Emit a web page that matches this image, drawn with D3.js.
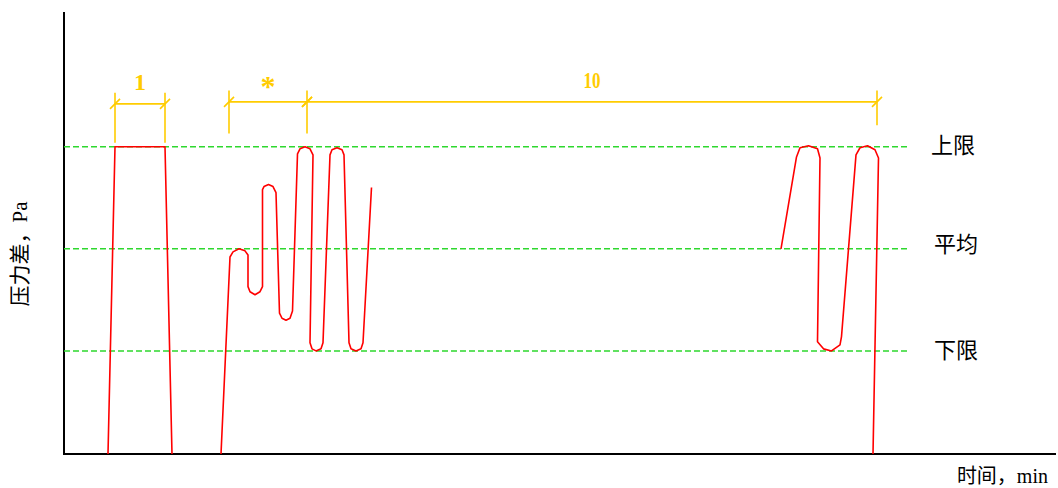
<!DOCTYPE html>
<html>
<head>
<meta charset="utf-8">
<script src="https://cdn.jsdelivr.net/npm/d3@7"></script>
<style>
  body { margin: 0; background: #fff; }
  svg { display: block; }
  text { font-family: "Liberation Serif", "Noto Sans CJK SC", serif; }
</style>
</head>
<body>
<div id="chart"></div>
<script>
// time in min (schematic), pressure difference relative to mean (upper = 1, lower = -1)
const bottomLevel = -2.01;

const pulse1 = [
  [0.88, bottomLevel], [1.02, 1], [2.02, 1], [2.16, bottomLevel]
];

const pulse2 = [
  [3.14, bottomLevel], [3.32, -0.08], [3.38, -0.03], [3.50, 0.0], [3.62, -0.02], [3.68, -0.06],
  [3.68, -0.37], [3.72, -0.42], [3.82, -0.45], [3.92, -0.42], [3.97, -0.37],
  [3.97, 0.58], [4.00, 0.61], [4.09, 0.63], [4.18, 0.61], [4.24, 0.55],
  [4.31, -0.63], [4.36, -0.68], [4.44, -0.70], [4.52, -0.68], [4.57, -0.61],
  [4.67, 0.93], [4.72, 0.98], [4.82, 1.0], [4.92, 0.98], [4.98, 0.92],
  [4.92, -0.92], [4.96, -0.98], [5.04, -1.0], [5.14, -0.98], [5.18, -0.92],
  [5.32, 0.92], [5.36, 0.97], [5.46, 0.99], [5.56, 0.97], [5.60, 0.92],
  [5.70, -0.92], [5.74, -0.98], [5.84, -1.0], [5.94, -0.98], [5.98, -0.92],
  [6.15, 0.60]
];

const pulse3 = [
  [14.34, 0], [14.65, 0.90], [14.72, 0.99], [14.89, 1.01], [15.07, 0.98], [15.12, 0.89],
  [15.07, -0.91], [15.19, -0.98], [15.35, -1.0], [15.52, -0.94], [15.55, -0.86],
  [15.84, 0.92], [15.92, 0.99], [16.07, 1.01], [16.22, 0.97], [16.29, 0.89],
  [16.18, bottomLevel]
];

const limitLines = [
  { label: "上限", value: 1, dy: -1 },
  { label: "平均", value: 0, dy: -4 },
  { label: "下限", value: -1, dy: 0 }
];
const limitEnd = 16.92;

// brackets: from, to, line level, label, ticks [t, top, bottom]
const brackets = [
  { from: 1.02, to: 2.02, level: 1.42, label: "1", ticks: [[1.02, 1.53, 1.04], [2.02, 1.53, 1.04]] },
  { from: 3.30, to: 4.86, level: 1.44, label: "*", ticks: [[3.30, 1.55, 1.13], [4.86, 1.55, 1.13]] },
  { from: 4.86, to: 16.26, level: 1.44, label: "10", ticks: [[16.26, 1.55, 1.21]] }
];

const yLabel = "压力差，Pa";
const xLabel = "时间，min";

const width = 1058, height = 488;
const x = d3.scaleLinear().domain([0, 19.84]).range([64, 1056]);
const y = d3.scaleLinear().domain([-2.01, 2.32]).range([454, 12]);

const svg = d3.select("#chart").append("svg")
  .attr("width", width)
  .attr("height", height);

// axes (plain lines, no ticks)
svg.append("line")
  .attr("x1", x(0)).attr("x2", x(0))
  .attr("y1", y.range()[1]).attr("y2", y.range()[0])
  .attr("stroke", "#000").attr("stroke-width", 2);
svg.append("line")
  .attr("x1", x(0) - 1).attr("x2", x.range()[1])
  .attr("y1", y(bottomLevel)).attr("y2", y(bottomLevel))
  .attr("stroke", "#000").attr("stroke-width", 2);

// dashed limit lines
svg.selectAll(".limit")
  .data(limitLines)
  .join("line")
  .attr("x1", x(0)).attr("x2", x(limitEnd))
  .attr("y1", d => y(d.value)).attr("y2", d => y(d.value))
  .attr("stroke", "#2ed82e")
  .attr("stroke-width", 1.5)
  .attr("stroke-dasharray", "6,3");

svg.selectAll(".limit-label")
  .data(limitLines)
  .join("text")
  .attr("x", d => x(limitEnd) + (d.value === 1 ? 21 : 24))
  .attr("y", d => y(d.value) + d.dy)
  .attr("dominant-baseline", "central")
  .attr("font-size", 22)
  .attr("fill", "#000")
  .text(d => d.label);

// pressure curve
const line = d3.line().x(d => x(d[0])).y(d => y(d[1]));
svg.selectAll(".pulse")
  .data([pulse1, pulse2, pulse3])
  .join("path")
  .attr("d", line)
  .attr("fill", "none")
  .attr("stroke", "#ff0000")
  .attr("stroke-width", 1.6)
  .attr("stroke-linejoin", "round");

// dimension brackets
const yellow = "#ffcc00";
brackets.forEach(b => {
  const g = svg.append("g").attr("stroke", yellow).attr("stroke-width", 1.6);
  g.append("line")
    .attr("x1", x(b.from)).attr("x2", x(b.to))
    .attr("y1", y(b.level)).attr("y2", y(b.level));
  b.ticks.forEach(t => {
    g.append("line")
      .attr("x1", x(t[0])).attr("x2", x(t[0]))
      .attr("y1", y(t[1])).attr("y2", y(t[2]));
  });
  [b.from, b.to].forEach(v => {
    g.append("line")
      .attr("x1", x(v) - 5).attr("x2", x(v) + 5)
      .attr("y1", y(b.level) + 5).attr("y2", y(b.level) - 5);
  });
  svg.append("text")
    .attr("x", (x(b.from) + x(b.to)) / 2)
    .attr("y", y(b.level) - (b.label === "*" ? 6 : 14))
    .attr("text-anchor", "middle")
    .attr("font-size", b.label === "*" ? 30 : 24)
    .attr("font-weight", "bold")
    .attr("fill", yellow)
    .attr("textLength", b.label === "10" ? 17 : null)
    .attr("lengthAdjust", "spacingAndGlyphs")
    .text(b.label);
});

// axis titles
svg.append("text")
  .attr("transform", `translate(20, ${254}) rotate(-90)`)
  .attr("text-anchor", "middle")
  .attr("dominant-baseline", "central")
  .attr("font-size", 21)
  .attr("fill", "#000")
  .text(yLabel);

svg.append("text")
  .attr("x", 1048)
  .attr("y", 476)
  .attr("text-anchor", "end")
  .attr("dominant-baseline", "central")
  .attr("font-size", 20)
  .attr("fill", "#000")
  .text(xLabel);
</script>
</body>
</html>
